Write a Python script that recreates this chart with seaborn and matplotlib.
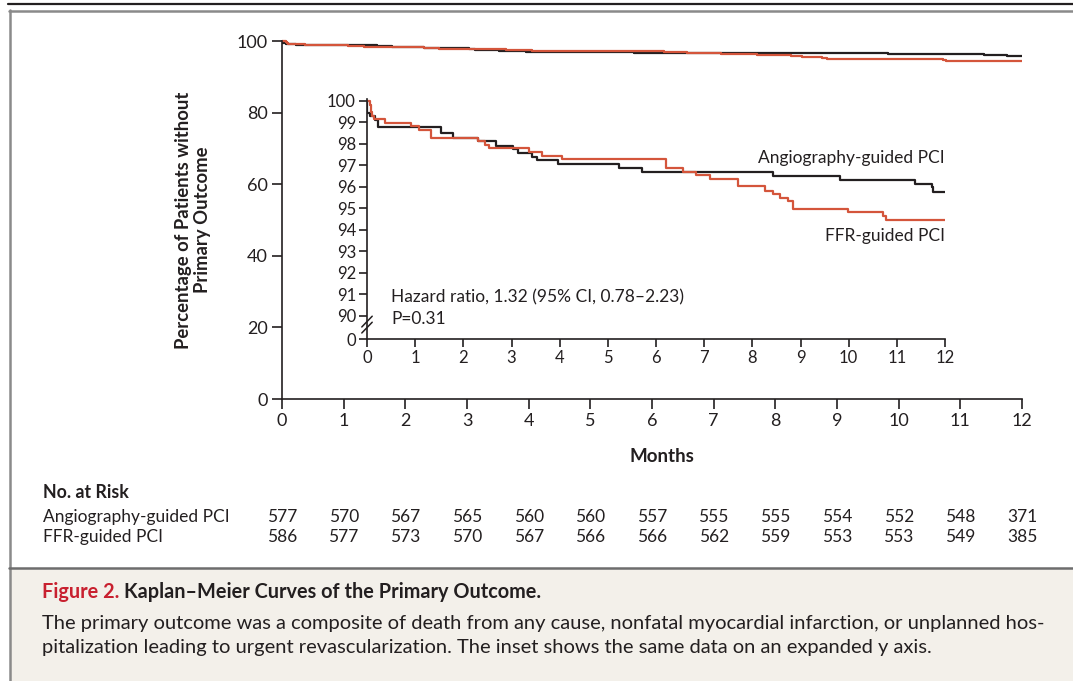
import matplotlib
matplotlib.use("Agg")
import matplotlib.pyplot as plt
import matplotlib.transforms as mtransforms
from matplotlib.lines import Line2D
from matplotlib.patches import Rectangle
import seaborn as sns
import pandas as pd

# ---------------- data ----------------
groups = ["Angiography-guided PCI", "FFR-guided PCI"]
months = list(range(13))
risk_angio = [577, 570, 567, 565, 560, 560, 557, 555, 555, 554, 552, 548, 371]
risk_ffr = [586, 577, 573, 570, 567, 566, 566, 562, 559, 553, 553, 549, 385]

angio_t = [0, 0, 0.06, 0.16, 0.23, 1.54, 1.79, 2.30, 2.67, 3.04, 3.13, 3.42, 3.52,
           3.96, 5.24, 5.70, 8.43, 9.82, 11.38, 11.72, 11.75, 12.0]
angio_s = [100, 99.46, 99.3, 99.1, 98.8, 98.49, 98.29, 98.12, 97.92, 97.77, 97.6,
           97.4, 97.26, 97.06, 96.88, 96.69, 96.52, 96.33, 96.15, 96.0, 95.78, 95.78]

ffr_t = [0, 0.06, 0.08, 0.10, 0.15, 0.37, 0.91, 1.07, 1.33, 2.30, 2.45, 2.54, 3.36,
         3.63, 4.05, 6.20, 6.57, 6.84, 7.12, 7.71, 8.26, 8.43, 8.57, 8.75, 8.84,
         9.99, 10.72, 10.77, 12.0]
ffr_s = [100, 99.8, 99.5, 99.3, 99.15, 98.98, 98.83, 98.66, 98.29, 98.12, 97.95,
         97.8, 97.65, 97.46, 97.28, 96.9, 96.72, 96.57, 96.37, 96.06, 95.82, 95.67,
         95.51, 95.33, 94.99, 94.84, 94.66, 94.48, 94.48]

main_yticks = [0, 20, 40, 60, 80, 100]
inset_break = 88.93
inset_ticks = [inset_break] + list(range(90, 101))
inset_ticklabels = ["0"] + [str(v) for v in range(90, 101)]

hazard_text = "Hazard ratio, 1.32 (95% CI, 0.78\u20132.23)"
p_text = "P=0.31"
fig_title_red = "Figure 2."
fig_title_black = "Kaplan\u2013Meier Curves of the Primary Outcome."
caption_lines = [
    "The primary outcome was a composite of death from any cause, nonfatal myocardial infarction, or unplanned hos-",
    "pitalization leading to urgent revascularization. The inset shows the same data on an expanded y axis.",
]

df = pd.concat([
    pd.DataFrame({"month": angio_t, "surv": angio_s, "group": groups[0]}),
    pd.DataFrame({"month": ffr_t, "surv": ffr_s, "group": groups[1]}),
], ignore_index=True)

# ---------------- style ----------------
sns.set_theme(style="white")
plt.rcParams["font.family"] = ["Lato", "DejaVu Sans"]
BLACK = "#231f20"
RED = "#d4553b"
palette = {groups[0]: BLACK, groups[1]: RED}
TXT = "#231f20"

W, H = 1073, 681
fig = plt.figure(figsize=(W / 100, H / 100), dpi=100)
fig.patch.set_facecolor("white")


def fx(px):
    return px / W


def fy(py):
    return 1 - py / H


# frame / caption box
fig.add_artist(Rectangle((fx(10), 0), 1, fy(568), transform=fig.transFigure,
                         facecolor="#f3f0ea", edgecolor="none", zorder=0))
fig.add_artist(Line2D([fx(8), 1], [fy(4), fy(4)], color="#231f20", lw=1.6,
                      transform=fig.transFigure))
fig.add_artist(Line2D([fx(9), 1], [fy(10.5), fy(10.5)], color="#8a8a8a", lw=1.8,
                      transform=fig.transFigure))
fig.add_artist(Line2D([fx(9.5), fx(9.5)], [fy(10), 0], color="#8a8a8a", lw=1.8,
                      transform=fig.transFigure))
fig.add_artist(Line2D([fx(9), 1], [fy(567.5), fy(567.5)], color="#6d6d6d", lw=1.8,
                      transform=fig.transFigure))

# ---------------- main axes ----------------
ppu = 3.58
top_px = 41 - 0.5 * ppu
ax = fig.add_axes([fx(282), fy(399), fx(1022) - fx(282), (399 - top_px) / H])
sns.lineplot(data=df, x="month", y="surv", hue="group", palette=palette,
             estimator=None, sort=False, drawstyle="steps-post", lw=1.6,
             legend=False, ax=ax)
ax.set_xlim(0, 12)
ax.set_ylim(0, 100.5)
ax.set_xticks(months)
ax.set_yticks(main_yticks)
ax.set_xticklabels([str(m) for m in months], fontsize=13, color=TXT)
ax.set_yticklabels([str(v) for v in main_yticks], fontsize=13, color=TXT)
ax.tick_params(axis="both", direction="out", length=7, width=1.2, color=BLACK,
               pad=3, bottom=True, left=True)
for s in ["top", "right"]:
    ax.spines[s].set_visible(False)
for s in ["left", "bottom"]:
    ax.spines[s].set_color(BLACK)
    ax.spines[s].set_linewidth(1.2)
ax.spines["left"].set_bounds(0, 100)
ax.set_xlabel("")
ax.set_ylabel("")
ax.patch.set_alpha(0)

fig.text(fx(662), fy(456), "Months", ha="center", va="center", fontsize=13.5,
         fontweight="bold", color=TXT)
fig.text(fx(193), fy(220), "Percentage of Patients without\nPrimary Outcome",
         ha="center", va="center", rotation=90, fontsize=13.3, fontweight="bold",
         color=TXT, linespacing=1.15)

# ---------------- inset ----------------
ippu = 21.55
itop_px = 101 - 0.07 * ippu
iax = fig.add_axes([fx(367), fy(339), fx(945) - fx(367), (339 - itop_px) / H])
sns.lineplot(data=df, x="month", y="surv", hue="group", palette=palette,
             estimator=None, sort=False, drawstyle="steps-post", lw=1.6,
             legend=False, ax=iax)
iax.set_xlim(0, 12)
iax.set_ylim(inset_break, 100.07)
iax.set_xticks(months)
iax.set_yticks(inset_ticks)
iax.set_xticklabels([str(m) for m in months], fontsize=12, color=TXT)
iax.set_yticklabels(inset_ticklabels, fontsize=12, color=TXT)
iax.tick_params(axis="both", direction="out", length=6, width=1.2, color=BLACK,
                pad=2, bottom=True, left=True)
for s in ["top", "right"]:
    iax.spines[s].set_visible(False)
for s in ["left", "bottom"]:
    iax.spines[s].set_color(BLACK)
    iax.spines[s].set_linewidth(1.2)
iax.set_xlabel("")
iax.set_ylabel("")
iax.patch.set_alpha(0)

# axis break marks
trans_break = mtransforms.blended_transform_factory(iax.transAxes, iax.transData)
for dy in (0.0, 0.28):
    iax.plot([-0.009, 0.009], [inset_break + 0.28 + dy, inset_break + 0.78 + dy],
             color=BLACK, lw=1.1, transform=trans_break, clip_on=False)

iax.text(12, 97.36, groups[0], ha="right", va="center", fontsize=12.5, color=TXT)
iax.text(12, 93.74, groups[1], ha="right", va="center", fontsize=12.5, color=TXT)
iax.text(0.5, 90.85, hazard_text, ha="left", va="center", fontsize=12.5, color=TXT)
iax.text(0.5, 89.87, p_text, ha="left", va="center", fontsize=12.5, color=TXT)

# ---------------- risk table ----------------
fig.text(fx(43), fy(492), "No. at Risk", ha="left", va="center", fontsize=12.8,
         fontweight="bold", color=TXT)
rtrans = mtransforms.blended_transform_factory(ax.transData, fig.transFigure)
for row_y, label, counts in [(517, groups[0], risk_angio), (537, groups[1], risk_ffr)]:
    fig.text(fx(43), fy(row_y), label, ha="left", va="center", fontsize=12.5, color=TXT)
    for m, c in zip(months, counts):
        ax.text(m, fy(row_y), str(c), ha="center", va="center", fontsize=12.5,
                color=TXT, transform=rtrans, clip_on=False)

# ---------------- caption ----------------
t1 = fig.text(fx(42), fy(592), fig_title_red, ha="left", va="center", fontsize=14.3,
              fontweight="bold", color="#c8202f")
fig.canvas.draw()
bb = t1.get_window_extent(renderer=fig.canvas.get_renderer())
fig.text(bb.x1 / W + fx(5), fy(592), fig_title_black, ha="left", va="center",
         fontsize=14.3, fontweight="bold", color=TXT)
for i, line in enumerate(caption_lines):
    fig.text(fx(42), fy(624 + 24 * i), line, ha="left", va="center", fontsize=14.5,
             color=TXT)

fig.savefig("out.png", dpi=100)
